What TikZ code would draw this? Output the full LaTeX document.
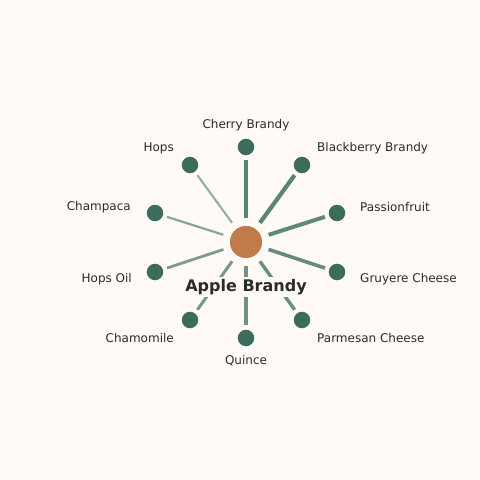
\documentclass[tikz,border=0pt]{standalone}
\usepackage{fontspec}
\setmainfont{DejaVu Sans}
\begin{document}
\begin{tikzpicture}[x=1pt,y=-1pt,
  leaf/.style={circle,fill=leafc,draw=bgc,line width=1.2pt,minimum size=18pt,inner sep=0pt},
  hub/.style={circle,fill=hubc,draw=white,line width=1.5pt,minimum size=34pt,inner sep=0pt},
  lab/.style={text=txtc,font=\fontsize{12}{14}\selectfont,inner sep=0pt},
  edge/.style={draw=edgec,shorten <=6pt,shorten >=3pt}]
\definecolor{bgc}{HTML}{FFFAF6}
\definecolor{leafc}{HTML}{3D6B5C}
\definecolor{hubc}{HTML}{C17B4A}
\definecolor{edgec}{HTML}{4F7D6D}
\definecolor{txtc}{HTML}{2B2B2B}
\fill[bgc] (0,0) rectangle (480,480);
\useasboundingbox (0,0) rectangle (480,480);
\node[hub] (c) at (246,242) {};
\node[leaf] (n1) at (246,147) {};
\node[leaf] (n2) at (302,165) {};
\node[leaf] (n3) at (337,213) {};
\node[leaf] (n4) at (337,272) {};
\node[leaf] (n5) at (302,320) {};
\node[leaf] (n6) at (246,338) {};
\node[leaf] (n7) at (190,320) {};
\node[leaf] (n8) at (155,272) {};
\node[leaf] (n9) at (155,213) {};
\node[leaf] (n10) at (190,165) {};
\draw[edge,line width=4.4pt,draw opacity=0.95] (c) -- (n1);
\draw[edge,line width=4.2pt,draw opacity=0.93] (c) -- (n2);
\draw[edge,line width=4.0pt,draw opacity=0.9] (c) -- (n3);
\draw[edge,line width=3.6pt,draw opacity=0.88] (c) -- (n4);
\draw[edge,line width=3.4pt,draw opacity=0.85] (c) -- (n5);
\draw[edge,line width=3.2pt,draw opacity=0.82] (c) -- (n6);
\draw[edge,line width=3.0pt,draw opacity=0.78] (c) -- (n7);
\draw[edge,line width=2.8pt,draw opacity=0.75] (c) -- (n8);
\draw[edge,line width=2.2pt,draw opacity=0.68] (c) -- (n9);
\draw[edge,line width=2.0pt,draw opacity=0.62] (c) -- (n10);
\node[lab,anchor=center] (l1) at (246,125) {Cherry Brandy};
\node[lab,anchor=west] (l2) at (317,148) {Blackberry Brandy};
\node[lab,anchor=west] (l3) at (360,207) {Passionfruit};
\node[lab,anchor=west] (l4) at (360,279) {Gruyere Cheese};
\node[lab,anchor=west] (l5) at (317,338) {Parmesan Cheese};
\node[lab,anchor=center] (l6) at (246,361) {Quince};
\node[lab,anchor=east] (l7) at (174,338) {Chamomile};
\node[lab,anchor=east] (l8) at (132,279) {Hops Oil};
\node[lab,anchor=east] (l9) at (131,207) {Champaca};
\node[lab,anchor=east] (l10) at (174,148) {Hops};
\node[fill=bgc,text=txtc,font=\bfseries\fontsize{16}{18}\selectfont,inner sep=2pt] (t) at (246,287) {Apple Brandy};
\end{tikzpicture}
\end{document}
